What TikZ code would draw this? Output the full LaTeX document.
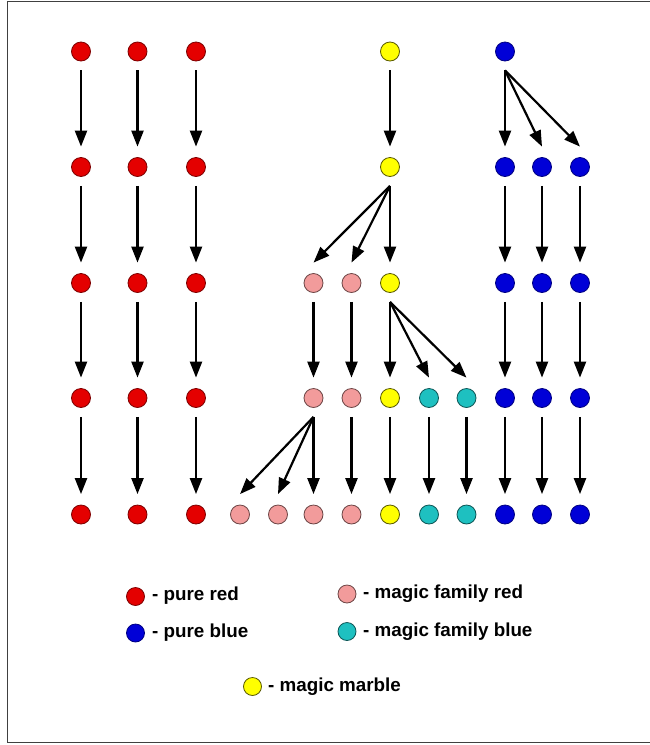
\documentclass[tikz,border=0pt]{standalone}
\usepackage{fontspec}
\setmainfont{Liberation Sans}
\usetikzlibrary{arrows.meta}
\definecolor{pr}{RGB}{228,0,0}
\definecolor{pb}{RGB}{0,0,215}
\definecolor{mr}{RGB}{242,155,155}
\definecolor{mb}{RGB}{30,192,192}
\definecolor{mm}{RGB}{255,255,0}
\tikzset{
  marble/.style={circle,minimum size=19pt,inner sep=0pt,line width=0.8pt},
  redm/.style={marble,fill=pr,draw=pr!55!black},
  bluem/.style={marble,fill=pb,draw=pb!60!black},
  pinkm/.style={marble,fill=mr,draw=mr!45!black},
  cyanm/.style={marble,fill=mb,draw=mb!45!black},
  yelm/.style={marble,fill=mm,draw=mm!35!black},
  arr/.style={line width=2.2pt,-{Triangle[length=16pt,width=12pt]}},
  lab/.style={anchor=base west,inner sep=0pt,font=\fontsize{18.8}{21}\selectfont\bfseries},
  frame/.style={draw=black!75,line width=1.5pt}
}
\begin{document}
\begin{tikzpicture}[x=1pt,y=-1pt]
\useasboundingbox (0,0) rectangle (649,745);
\draw[frame] (660,1.5) -- (7.5,1.5) -- (7.5,742.5) -- (660,742.5);
% rows
\def\ra{51.5}\def\rb{167}\def\rc{283}\def\rd{398}\def\re{514.5}
% red columns
\foreach \c/\x in {1/81,2/137.5,3/196}{
  \foreach \r/\y in {1/\ra,2/\rb,3/\rc,4/\rd,5/\re}{
    \node[redm] (n\c-\r) at (\x,\y) {};
  }
}
% yellow column
\foreach \r/\y in {1/\ra,2/\rb,3/\rc,4/\rd,5/\re}{
  \node[yelm] (n8-\r) at (390,\y) {};
}
% blue
\node[bluem] (n11-1) at (505,\ra) {};
\foreach \c/\x in {11/505,12/542,13/580}{
  \foreach \r/\y in {2/\rb,3/\rc,4/\rd,5/\re}{
    \node[bluem] (n\c-\r) at (\x,\y) {};
  }
}
% pink
\foreach \c/\x in {6/313.5,7/351.5}{
  \foreach \r/\y in {3/\rc,4/\rd,5/\re}{
    \node[pinkm] (n\c-\r) at (\x,\y) {};
  }
}
\node[pinkm] (n4-5) at (240,\re) {};
\node[pinkm] (n5-5) at (278,\re) {};
% cyan
\foreach \c/\x in {9/429,10/466.5}{
  \foreach \r/\y in {4/\rd,5/\re}{
    \node[cyanm] (n\c-\r) at (\x,\y) {};
  }
}
% vertical arrows
\foreach \c/\r/\s in {1/1/2,1/2/3,1/3/4,1/4/5,
                      2/1/2,2/2/3,2/3/4,2/4/5,
                      3/1/2,3/2/3,3/3/4,3/4/5,
                      8/1/2,8/2/3,8/3/4,8/4/5,
                      11/1/2,11/2/3,11/3/4,11/4/5,
                      12/2/3,12/3/4,12/4/5,
                      13/2/3,13/3/4,13/4/5,
                      6/3/4,6/4/5,7/3/4,7/4/5,
                      9/4/5,10/4/5}{
  \draw[arr] ([yshift=-9pt]n\c-\r.south) -- ([yshift=10.5pt]n\c-\s.north);
}
% fan arrows
\foreach \p/\q in {n11-1/n12-2,n11-1/n13-2,
                   n8-2/n6-3,n8-2/n7-3,
                   n8-3/n9-4,n8-3/n10-4,
                   n6-4/n4-5,n6-4/n5-5}{
  \draw[arr] ([yshift=-9pt]\p.south) -- ([yshift=10.5pt]\q.north);
}
% legend
\node[redm,minimum size=18pt] (lr) at (135.5,596.5) {};
\node[lab] (tr) at (152,600.5) {- pure red};
\node[bluem,minimum size=18pt] (lb) at (135.5,633) {};
\node[lab] (tb) at (152,637.5) {- pure blue};
\node[pinkm,minimum size=18pt] (lp) at (347,594) {};
\node[lab] (tp) at (363,598.5) {- magic family red};
\node[cyanm,minimum size=18pt] (lc) at (347,631.5) {};
\node[lab] (tc) at (363,636) {- magic family blue};
\node[yelm,minimum size=18pt] (ly) at (252.5,686.5) {};
\node[lab] (ty) at (268,691) {- magic marble};
\end{tikzpicture}
\end{document}
